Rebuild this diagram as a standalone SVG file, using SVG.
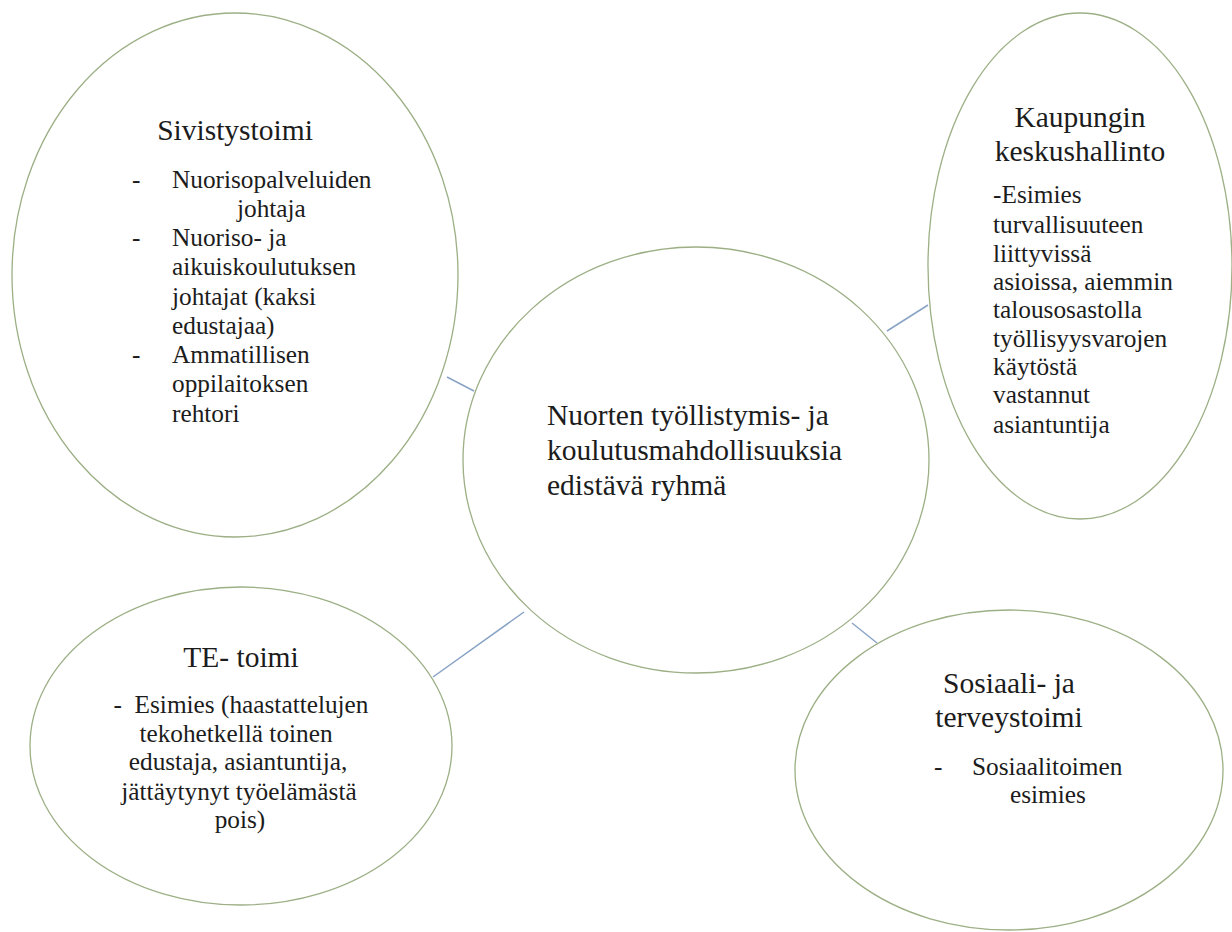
<svg xmlns="http://www.w3.org/2000/svg" width="1232" height="932" viewBox="0 0 1232 932">
<style>
.node{fill:#ffffff;stroke:#9caf85;stroke-width:1.3}
.conn{stroke:#88a3c5;stroke-width:1.5;fill:none}
text{font-family:'Liberation Serif','Times New Roman',serif;fill:#1c1c1c}
.t{font-size:29.5px}
.b{font-size:25.3px}
.c{text-anchor:middle}
</style>
<rect width="1232" height="932" fill="#ffffff"/>
<g id="connectors">
<line class="conn" x1="447" y1="377" x2="474" y2="391"/>
<line class="conn" x1="887" y1="331" x2="928" y2="305"/>
<line class="conn" x1="433" y1="677" x2="524" y2="612"/>
<line class="conn" x1="852" y1="623" x2="877" y2="643"/>
</g>
<g id="sivistystoimi">
<ellipse class="node" cx="235" cy="275" rx="223" ry="262"/>
<text class="t c" x="235" y="140">Sivistystoimi</text>
<text class="b" x="132" y="188">-</text>
<text class="b" x="172" y="188">Nuorisopalveluiden</text>
<text class="b" x="237" y="217">johtaja</text>
<text class="b" x="132" y="246">-</text>
<text class="b" x="172" y="246">Nuoriso- ja</text>
<text class="b" x="172" y="275">aikuiskoulutuksen</text>
<text class="b" x="172" y="305">johtajat (kaksi</text>
<text class="b" x="172" y="334">edustajaa)</text>
<text class="b" x="132" y="363">-</text>
<text class="b" x="172" y="363">Ammatillisen</text>
<text class="b" x="172" y="392">oppilaitoksen</text>
<text class="b" x="172" y="422">rehtori</text>
</g>
<g id="kaupungin">
<ellipse class="node" cx="1080" cy="266" rx="152" ry="253"/>
<text class="t c" x="1080" y="127">Kaupungin</text>
<text class="t c" x="1080" y="161">keskushallinto</text>
<text class="b" x="993" y="203">-Esimies</text>
<text class="b" x="993" y="233">turvallisuuteen</text>
<text class="b" x="993" y="262">liittyvissä</text>
<text class="b" x="993" y="290">asioissa, aiemmin</text>
<text class="b" x="993" y="318">talousosastolla</text>
<text class="b" x="993" y="347">työllisyysvarojen</text>
<text class="b" x="993" y="375">käytöstä</text>
<text class="b" x="993" y="403">vastannut</text>
<text class="b" x="993" y="433">asiantuntija</text>
</g>
<g id="keskus">
<ellipse class="node" cx="696" cy="460" rx="233" ry="213"/>
<text class="t" x="547" y="425">Nuorten työllistymis- ja</text>
<text class="t" x="547" y="460">koulutusmahdollisuuksia</text>
<text class="t" x="547" y="495">edistävä ryhmä</text>
</g>
<g id="te-toimi">
<ellipse class="node" cx="241" cy="746" rx="211" ry="159"/>
<text class="t c" x="241" y="667">TE- toimi</text>
<text class="b c" x="241" y="713" xml:space="preserve">-  Esimies (haastattelujen</text>
<text class="b c" x="236" y="742">tekohetkellä toinen</text>
<text class="b c" x="238" y="770">edustaja, asiantuntija,</text>
<text class="b c" x="239" y="800">jättäytynyt työelämästä</text>
<text class="b c" x="240" y="828">pois)</text>
</g>
<g id="sosiaali">
<ellipse class="node" cx="1009" cy="770" rx="214" ry="160"/>
<text class="t c" x="1009" y="693">Sosiaali- ja</text>
<text class="t c" x="1009" y="727">terveystoimi</text>
<text class="b" x="934" y="775">-</text>
<text class="b" x="972" y="775">Sosiaalitoimen</text>
<text class="b" x="1010" y="803">esimies</text>
</g>
</svg>
